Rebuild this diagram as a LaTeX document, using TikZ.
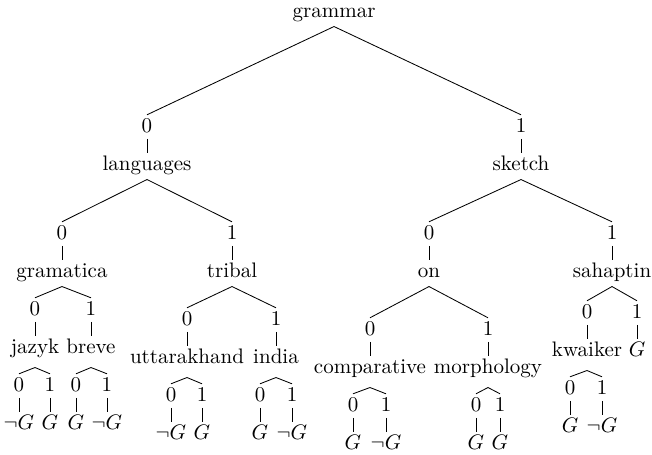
\documentclass[tikz,border=0pt]{standalone}
\usepackage{amsmath}
\usetikzlibrary{math}
\begin{document}
\begin{tikzpicture}[
		x=0.476pt,y=-0.476pt,
		word/.style={anchor=base,inner sep=1.1pt,text height=1.6ex,text depth=0.75ex},
		lastword/.style={word,text depth=1.3ex},
		bit/.style={word,text depth=0.45ex},
		branch/.style={thin},
	]
	\tikzmath{\dy=38;
		% \rw{n} = baseline of the words on level n
		\rw1 = 170; \rw2 = 277;
	}
	\useasboundingbox (0,0) rectangle (652,454);
	%
	\node[word] (grammar)         at (334,17)   {grammar};
	\node[bit]  (languages_bit)   at (147,\rw1-\dy) {0};
	\node[bit]  (sketch_bit)      at (521,\rw1-\dy) {1};
	\node[word] (languages)       at (147,\rw1) {languages};
	\node[word] (sketch)          at (521,\rw1) {sketch};
	%
	\node[bit]  (gramatica_bit)   at (62,\rw2-\dy)  {0};
	\node[bit]  (tribal_bit)      at (232,\rw2-\dy) {1};
	\node[bit]  (on_bit)          at (429,\rw2-\dy) {0};
	\node[bit]  (sahaptin_bit)    at (612,\rw2-\dy) {1};
	\node[word] (gramatica)       at (62,\rw2)  {gramatica};
	\node[word] (tribal)          at (232,\rw2) {tribal};
	\node[word] (on)              at (429,\rw2) {on};
	\node[word] (sahaptin)        at (612,\rw2) {sahaptin};
	%
	\node[bit]      (jazyk_bit)       at (35,315)  {0};
	\node[bit]      (breve_bit)       at (91,315)  {1};
	\node[lastword] (jazyk)           at (35,353)  {jazyk};
	\node[lastword] (breve)           at (91,353)  {breve};
	\node[bit]      (uttarakhand_bit) at (187,325) {0};
	\node[bit]      (india_bit)       at (276,325) {1};
	\node[lastword] (uttarakhand)     at (187,363) {uttarakhand};
	\node[lastword] (india)           at (276,363) {india};
	\node[bit]      (comparative_bit) at (370,335) {0};
	\node[bit]      (morphology_bit)  at (488,335) {1};
	\node[lastword] (comparative)     at (370,373) {comparative};
	\node[lastword] (morphology)      at (488,373) {morphology};
	\node[bit]      (kwaiker_bit)     at (587,318) {0};
	\node[bit]      (sahaptin_g_bit)  at (637,318) {1};
	\node[lastword] (kwaiker)         at (587,356) {kwaiker};
	\node[word]     (sahaptin_g)      at (637,356) {$G$};
	%
	\foreach \a/\b in {grammar/languages_bit,grammar/sketch_bit,
			languages_bit/languages,sketch_bit/sketch,
			languages/gramatica_bit,languages/tribal_bit,sketch/on_bit,sketch/sahaptin_bit,
			gramatica_bit/gramatica,tribal_bit/tribal,on_bit/on,sahaptin_bit/sahaptin,
			gramatica/jazyk_bit,gramatica/breve_bit,tribal/uttarakhand_bit,tribal/india_bit,
			on/comparative_bit,on/morphology_bit,sahaptin/kwaiker_bit,sahaptin/sahaptin_g_bit,
			jazyk_bit/jazyk,breve_bit/breve,uttarakhand_bit/uttarakhand,india_bit/india,
			comparative_bit/comparative,morphology_bit/morphology,
			kwaiker_bit/kwaiker,sahaptin_g_bit/sahaptin_g}
		\draw[branch] (\a.south) -- (\b.north);
	% leaves: word / x of bit 0 / x of bit 1 / baseline of bits / leaf 0 / leaf 1
	\foreach \w/\xa/\xb/\yb/\ga/\gb in {
			jazyk/19/50/391/$\neg G$/$G$,
			breve/76/107/391/$G$/$\neg G$,
			uttarakhand/171/202/401/$\neg G$/$G$,
			india/260/292/401/$G$/$\neg G$,
			comparative/353/386/411/$G$/$\neg G$,
			morphology/476/500/411/$G$/$G$,
			kwaiker/570/602/394/$G$/$\neg G$}
	{
		\node[bit]  (\w_0)  at (\xa,\yb)     {0};
		\node[bit]  (\w_1)  at (\xb,\yb)     {1};
		\node[word] (\w_g0) at (\xa,\yb+\dy) {\ga};
		\node[word] (\w_g1) at (\xb,\yb+\dy) {\gb};
		\draw[branch] (\w.south) -- (\w_0.north);
		\draw[branch] (\w.south) -- (\w_1.north);
		\draw[branch] (\w_0.south) -- (\w_g0.north);
		\draw[branch] (\w_1.south) -- (\w_g1.north);
	}
\end{tikzpicture}
\end{document}
